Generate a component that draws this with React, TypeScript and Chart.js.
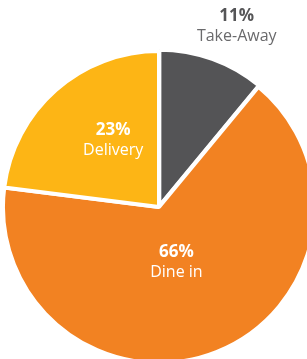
import React, { useEffect, useRef } from "react";
import { Chart, registerables } from "chart.js";

Chart.register(...registerables);

const categories = ["Take-Away", "Dine in", "Delivery"];
const shares = [11, 66, 23];
const percentLabels = ["11%", "66%", "23%"];
const colors = ["#545456", "#F28222", "#FDB515"];
const labelColors = ["#555557", "#ffffff", "#ffffff"];
const nameColors = ["#6a6a6c", "#ffffff", "#ffffff"];
const labelRadiusFactor = [1.26, 0.37, 0.52];
const labelAngleShiftDeg = [3.5, 4, 7];
const sliceOffsets = [4, 0, 0];

const labelPlugin = {
  id: "sliceLabels",
  afterDatasetsDraw(chart: any) {
    const ctx = chart.ctx;
    const meta = chart.getDatasetMeta(0);
    meta.data.forEach((arc: any, i: number) => {
      const p = arc.getProps(["x", "y", "startAngle", "endAngle", "outerRadius"], true);
      const mid = (p.startAngle + p.endAngle) / 2 + (labelAngleShiftDeg[i] * Math.PI) / 180;
      const r = p.outerRadius * labelRadiusFactor[i];
      const cx = p.x + Math.cos(mid) * r;
      const cy = p.y + Math.sin(mid) * r;
      ctx.save();
      ctx.textAlign = "center";
      ctx.textBaseline = "middle";
      ctx.fillStyle = labelColors[i];
      ctx.font = "bold 17px 'Open Sans', sans-serif";
      ctx.fillText(percentLabels[i], cx, cy - 10);
      ctx.fillStyle = nameColors[i];
      ctx.font = "16px 'Open Sans', sans-serif";
      ctx.fillText(categories[i], cx, cy + 10);
      ctx.restore();
    });
  },
};

export default function App() {
  const ref = useRef<HTMLCanvasElement>(null);
  useEffect(() => {
    if (!ref.current) return;
    const chart = new Chart(ref.current, {
      type: "pie",
      data: {
        labels: categories,
        datasets: [
          {
            data: shares,
            backgroundColor: colors,
            borderColor: "#ffffff",
            borderWidth: 4,
            offset: sliceOffsets,
            clip: false as any,
          },
        ],
      },
      options: {
        animation: false,
        responsive: false,
        radius: 156,
        layout: { padding: { left: 11, top: 55, right: 0, bottom: 0 } },
        plugins: { legend: { display: false }, tooltip: { enabled: false } },
      } as any,
      plugins: [labelPlugin],
    });
    return () => chart.destroy();
  }, []);
  return (
    <div style={{ position: "fixed", left: 0, top: 0, width: 307, height: 359, overflow: "hidden", background: "#fff" }}>
      <canvas ref={ref} width={307} height={359} style={{ width: 307, height: 359 }} />
    </div>
  );
}
